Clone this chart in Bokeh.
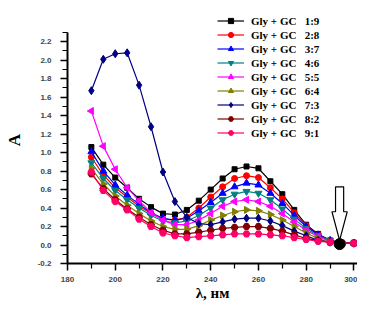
import math
from bokeh.plotting import figure
from bokeh.models import Legend, NumeralTickFormatter, FixedTicker, ColumnDataSource
from bokeh.embed import file_html
from bokeh.resources import INLINE

# ---- data ----
wavelength = [190, 195, 200, 205, 210, 215, 220, 225, 230, 235, 240, 245,
              250, 255, 260, 265, 270, 275, 280, 285, 290, 295, 300]

ratio_labels = ["1:9", "2:8", "3:7", "4:6", "5:5", "6:4", "7:3", "8:2", "9:1"]

a_1_9 = [1.06, 0.87, 0.73, 0.62, 0.50, 0.41, 0.34, 0.33, 0.38, 0.48, 0.60, 0.72,
         0.82, 0.85, 0.83, 0.69, 0.55, 0.38, 0.22, 0.12, 0.05, 0.02, 0.02]
a_2_8 = [0.95, 0.76, 0.62, 0.52, 0.42, 0.34, 0.28, 0.27, 0.30, 0.40, 0.52, 0.63,
         0.72, 0.75, 0.73, 0.62, 0.50, 0.35, 0.21, 0.11, 0.05, 0.02, 0.02]
a_3_7 = [1.01, 0.80, 0.65, 0.54, 0.44, 0.35, 0.29, 0.27, 0.29, 0.37, 0.46, 0.56,
         0.63, 0.67, 0.65, 0.56, 0.45, 0.32, 0.20, 0.11, 0.05, 0.02, 0.02]
a_4_6 = [0.89, 0.72, 0.59, 0.49, 0.40, 0.32, 0.26, 0.24, 0.26, 0.32, 0.40, 0.49,
         0.55, 0.58, 0.56, 0.49, 0.39, 0.28, 0.18, 0.10, 0.05, 0.02, 0.02]
a_5_5 = [1.45, 1.07, 0.82, 0.62, 0.48, 0.35, 0.27, 0.22, 0.22, 0.27, 0.34, 0.42,
         0.47, 0.49, 0.47, 0.42, 0.34, 0.25, 0.16, 0.09, 0.04, 0.02, 0.02]
a_6_4 = [0.83, 0.66, 0.53, 0.43, 0.34, 0.26, 0.20, 0.17, 0.17, 0.21, 0.27, 0.32,
         0.36, 0.38, 0.37, 0.33, 0.27, 0.20, 0.13, 0.07, 0.03, 0.02, 0.02]
a_7_3 = [1.67, 2.01, 2.07, 2.08, 1.73, 1.28, 0.79, 0.47, 0.30, 0.23, 0.22, 0.25,
         0.28, 0.29, 0.29, 0.26, 0.21, 0.15, 0.10, 0.05, 0.03, 0.02, 0.02]
a_8_2 = [0.77, 0.61, 0.49, 0.39, 0.30, 0.22, 0.16, 0.12, 0.12, 0.14, 0.16, 0.18,
         0.19, 0.20, 0.20, 0.18, 0.15, 0.11, 0.07, 0.05, 0.03, 0.02, 0.02]
a_9_1 = [0.79, 0.59, 0.47, 0.38, 0.28, 0.20, 0.13, 0.10, 0.08, 0.09, 0.10, 0.11,
         0.12, 0.12, 0.12, 0.11, 0.10, 0.08, 0.06, 0.04, 0.03, 0.02, 0.02]

series = [a_1_9, a_2_8, a_3_7, a_4_6, a_5_5, a_6_4, a_7_3, a_8_2, a_9_1]

# isosbestic point marked by the arrow
iso_x = 294
iso_y = 0.01

x_ticks = [180, 200, 220, 240, 260, 280, 300]
y_ticks = [-0.2, 0.0, 0.2, 0.4, 0.6, 0.8, 1.0, 1.2, 1.4, 1.6, 1.8, 2.0, 2.2]

# ---- styles ----
colors = ["#000000", "#FF0000", "#0000FF", "#008080", "#FF00FF",
          "#808000", "#000080", "#800000", "#FF0066"]
markers = ["square", "circle", "triangle", "inverted_triangle", "triangle",
           "triangle", "diamond", "hex", "hex"]
angles = [0, 0, 0, 0, math.pi / 2, -math.pi / 2, 0, 0, 0]
sizes = [5, 6, 7, 7, 7, 7, 8, 7, 7]

p = figure(width=357, height=304, output_backend="svg", toolbar_location=None,
           x_range=(180, 301.5), y_range=(-0.2, 2.473),
           min_border_left=67, min_border_right=0, min_border_top=16,
           min_border_bottom=41)
p.outline_line_color = None
p.grid.visible = False
p.background_fill_color = "white"

items = []
for vals, col, mk, ang, sz, lab in zip(series, colors, markers, angles, sizes, ratio_labels):
    src = ColumnDataSource(dict(x=wavelength, y=vals))
    r1 = p.line("x", "y", source=src, line_color=col, line_width=1.2)
    r2 = p.scatter("x", "y", source=src, marker=mk, angle=ang, size=sz,
                   fill_color=col, line_color=col)
    items.append(("Gly + GC   " + lab, [r1, r2]))

# arrow (hollow) pointing to isosbestic point
shaft_hw = 1.7
head_hw = 3.2
top = 0.63
head_base = 0.36
tip = iso_y + 0.04
ax = [iso_x - shaft_hw, iso_x + shaft_hw, iso_x + shaft_hw, iso_x + head_hw,
      iso_x, iso_x - head_hw, iso_x - shaft_hw]
ay = [top, top, head_base, head_base, tip, head_base, head_base]
p.patch(ax, ay, fill_color="white", line_color="black", line_width=1.2)
p.scatter([iso_x], [iso_y], size=11, fill_color="black", line_color="black")

legend = Legend(items=items, location=(150, 124))
legend.background_fill_alpha = 0
legend.border_line_color = None
legend.padding = 0
legend.margin = 0
legend.spacing = 1
legend.glyph_width = 27
legend.glyph_height = 13
legend.label_height = 13
legend.label_standoff = 7
legend.label_text_font = "Liberation Serif"
legend.label_text_font_style = "bold"
legend.label_text_font_size = "11px"
legend.label_text_color = "black"
p.add_layout(legend, "center")

for ax_ in (p.xaxis[0], p.yaxis[0]):
    ax_.axis_line_width = 2
    ax_.axis_line_color = "black"
    ax_.major_tick_line_width = 1.5
    ax_.minor_tick_line_width = 1.2
    ax_.major_tick_out = 7
    ax_.major_tick_in = 0
    ax_.minor_tick_out = 5
    ax_.minor_tick_in = 0
    ax_.major_label_text_font = "Liberation Sans"
    ax_.major_label_text_font_style = "bold"
    ax_.major_label_text_font_size = "8px"
    ax_.major_label_text_color = "#444444"
    ax_.axis_label_text_font = "Liberation Serif"
    ax_.axis_label_text_font_style = "bold"
    ax_.axis_label_text_color = "black"

p.xaxis.axis_label = "λ, нм"
p.yaxis.axis_label = "A"
p.xaxis.axis_label_text_font_size = "15px"
p.yaxis.axis_label_text_font_size = "17px"
p.xaxis.axis_label_standoff = 0
p.yaxis.axis_label_standoff = 11
p.xaxis.major_label_standoff = 6
p.yaxis.major_label_standoff = 9
p.xaxis.bounds = (180, 301.5)
p.yaxis.bounds = (-0.2, 2.3)
p.xaxis.ticker = FixedTicker(ticks=x_ticks, minor_ticks=[190, 210, 230, 250, 270, 290])
p.yaxis.ticker = FixedTicker(ticks=y_ticks,
                             minor_ticks=[-0.1, 0.1, 0.3, 0.5, 0.7, 0.9, 1.1, 1.3, 1.5,
                                          1.7, 1.9, 2.1, 2.3])
p.xaxis.formatter = NumeralTickFormatter(format="0")
p.yaxis.formatter = NumeralTickFormatter(format="0.0")

open("out.html", "w").write(file_html(p, INLINE))
